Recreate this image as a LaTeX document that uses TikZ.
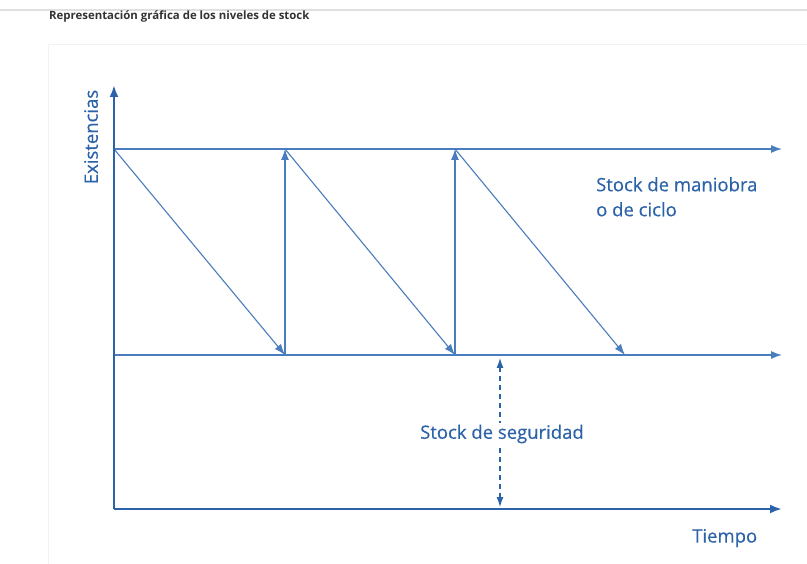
\documentclass[tikz,border=0pt]{standalone}
\usepackage{fontspec}
\setmainfont{Open Sans}[FakeBold=0.4]
\newfontfamily\lblfont{Open Sans}[FakeBold=0.35]
\newfontfamily\titlefont{Open Sans}
\usetikzlibrary{arrows.meta}
\definecolor{blueax}{HTML}{2B62A8}
\definecolor{blueln}{HTML}{4A7DBE}
\definecolor{titlegray}{HTML}{333333}
\tikzset{
  axis/.style={draw=blueax, line width=2.4pt, -{Latex[length=12pt,width=9pt]}},
  level/.style={draw=blueln, line width=1.3pt, -{Latex[length=11pt,width=8pt]}},
  flow/.style={draw=blueln, line width=1.1pt, -{Latex[length=11pt,width=8pt]}},
  safe/.style={draw=blueax, line width=1.1pt, dashed, dash pattern=on 5pt off 4pt, {Latex[length=10pt,width=7pt]}-{Latex[length=10pt,width=7pt]}},
  lbl/.style={text=blueax, font=\lblfont\fontsize{18.5}{25}\selectfont, inner sep=0pt, anchor=west}
}
\begin{document}
\begin{tikzpicture}[x=1pt,y=-1pt]
\useasboundingbox (0,0) rectangle (807,564);
\fill[white] (0,0) rectangle (807,564);
% page decorations
\draw[black!12, line width=1.5pt] (0,10) -- (807,10);
\draw[black!5, line width=1pt] (48,564) -- (48,45) -- (807,45);
\node[anchor=west, inner sep=0pt, text=titlegray, font=\titlefont\bfseries\fontsize{11.4}{13}\selectfont] (title) at (49,17) {Representación gráfica de los niveles de stock};
% coordinates
\coordinate (O) at (114,509);
\coordinate (Ytop) at (114,85);
\coordinate (Xend) at (782,509);
\coordinate (T0) at (114,149);
\coordinate (T1) at (285,149);
\coordinate (T2) at (455,149);
\coordinate (Tend) at (782,149);
\coordinate (S0) at (114,355);
\coordinate (S1) at (285,355);
\coordinate (S2) at (455,355);
\coordinate (S3) at (625,355);
\coordinate (Send) at (782,355);
\coordinate (Da) at (500,358);
\coordinate (Db) at (500,507);
% level lines
\draw[level] (T0) -- (Tend);
\draw[level] (S0) -- (Send);
% consumption diagonals
\draw[flow] (T0) -- (S1);
\draw[flow] (T1) -- (S2);
\draw[flow] (T2) -- (S3);
% replenishment
\draw[flow] (S1) -- (T1);
\draw[flow] (S2) -- (T2);
% safety stock
\draw[safe] (Da) -- (Db);
% axes
\draw[axis] (O) -- (Ytop);
\draw[axis] (O) -- (Xend);
% labels
\node[lbl, rotate=90, anchor=north] (ylab) at (84,137) {Existencias};
\node[lbl, align=left, anchor=north west] (cyc) at (596,177) {Stock de maniobra\\o de ciclo};
\node[lbl, fill=white, inner sep=2pt] (seg) at (418,434) {Stock de seguridad};
\node[lbl] (tiempo) at (692,538) {Tiempo};
\end{tikzpicture}
\end{document}
